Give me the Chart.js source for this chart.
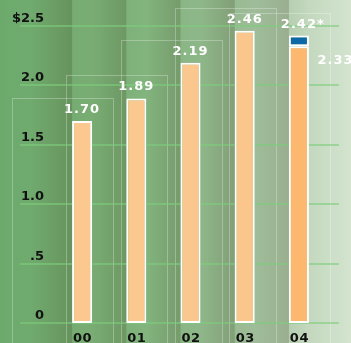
<!DOCTYPE html>
<html lang="en">
<head>
<meta charset="UTF-8">
<title>Earnings per Share</title>
<script src="https://cdn.jsdelivr.net/npm/chart.js"></script>
<style>
  html, body { margin: 0; padding: 0; background: #8fbf8a; overflow: hidden; }
</style>
</head>
<body>
<canvas id="chartCanvas" width="351" height="343"></canvas>
<script>
const years = ['00', '01', '02', '03', '04'];
const reported = [1.70, 1.89, 2.19, 2.46, 2.33];
const adjusted = [null, null, null, null, 2.42];
const yTicks = [0, 0.5, 1.0, 1.5, 2.0, 2.5];
const yTickLabels = ['0', '.5', '1.0', '1.5', '2.0', '$2.5'];

// the part of the adjusted figure above the reported one
const extra = adjusted.map((v, i) => v == null ? 0 : +(v - reported[i]).toFixed(2));
const totals = reported.map((v, i) => adjusted[i] == null ? v : adjusted[i]);

const barColors = ['#fbc98f', '#fbc98f', '#fac88e', '#fbc68b', '#fdb870'];
const labelFont = 'bold 13px "DejaVu Sans"';

const decor = {
  id: 'decor',
  beforeDraw(chart) {
    const { ctx, chartArea, scales: { x, y } } = chart;
    const W = chart.width, H = chart.height;
    ctx.save();
    // base wash, dark green on the left fading to pale
    const g = ctx.createLinearGradient(0, 0, W, 0);
    g.addColorStop(0, 'rgb(108,170,108)');
    g.addColorStop(90 / W, 'rgb(120,172,115)');
    g.addColorStop(146 / W, 'rgb(130,180,125)');
    g.addColorStop(200 / W, 'rgb(142,183,137)');
    g.addColorStop(254 / W, 'rgb(158,188,152)');
    g.addColorStop(308 / W, 'rgb(195,216,190)');
    g.addColorStop(1, 'rgb(212,228,207)');
    ctx.fillStyle = g;
    ctx.fillRect(0, 0, W, H);

    // shadow bands falling in from the left side of every bar
    const half = 10;
    let prev = 30;
    years.forEach((_, i) => {
      const cx = x.getPixelForValue(i);
      const x1 = cx - half;
      const sg = ctx.createLinearGradient(prev, 0, x1, 0);
      sg.addColorStop(0, 'rgba(50,60,20,0)');
      sg.addColorStop(1, 'rgba(50,60,20,0.22)');
      ctx.fillStyle = sg;
      ctx.fillRect(prev, 0, x1 - prev, H);
      prev = cx + half;
    });

    // faint frames behind each bar
    ctx.strokeStyle = 'rgba(255,255,255,0.28)';
    ctx.lineWidth = 1;
    years.forEach((_, i) => {
      const cx = Math.round(x.getPixelForValue(i));
      const top = Math.round(y.getPixelForValue(totals[i])) - 23;
      ctx.strokeRect(cx - 69.5, top + 0.5, 101, H);
    });

    // horizontal rules
    ctx.fillStyle = 'rgba(125,205,125,0.6)';
    yTicks.forEach(v => {
      const py = Math.round(y.getPixelForValue(v));
      ctx.fillRect(20, py - 1, 319, 2);
    });

    // axis labels
    ctx.fillStyle = '#111';
    ctx.font = labelFont;
    ctx.textBaseline = 'alphabetic';
    ctx.textAlign = 'right';
    yTicks.forEach((v, i) => {
      const py = Math.round(y.getPixelForValue(v));
      ctx.fillText(yTickLabels[i], 44, py - 4);
    });
    ctx.textAlign = 'center';
    ctx.letterSpacing = '0.5px';
    years.forEach((yr, i) => {
      ctx.fillText(yr, x.getPixelForValue(i) + 0.5, chartArea.bottom + 19);
    });
    ctx.restore();
  },
  afterDatasetsDraw(chart) {
    const { ctx, scales: { x, y } } = chart;
    ctx.save();
    ctx.fillStyle = '#fff';
    ctx.font = labelFont;
    ctx.letterSpacing = '1px';
    ctx.textBaseline = 'alphabetic';
    years.forEach((_, i) => {
      const cx = x.getPixelForValue(i);
      const text = totals[i].toFixed(2);
      const py = y.getPixelForValue(totals[i]) - 8;
      const w = ctx.measureText(text).width;
      ctx.textAlign = 'left';
      ctx.fillText(text, cx - w / 2, py);
      if (adjusted[i] != null) {
        ctx.fillText('*', cx + w / 2, py);
        // reported figure beside the bar
        ctx.fillText(reported[i].toFixed(2), cx + 18.5, y.getPixelForValue(reported[i]) + 18);
      }
    });
    ctx.restore();
  }
};

new Chart(document.getElementById('chartCanvas'), {
  type: 'bar',
  data: {
    labels: years,
    datasets: [
      {
        data: reported,
        backgroundColor: barColors,
        borderColor: '#fff',
        borderWidth: 2,
        borderSkipped: false
      },
      {
        data: extra,
        backgroundColor: '#0b6aa6',
        borderColor: '#fff',
        borderWidth: 2,
        borderSkipped: false
      }
    ]
  },
  options: {
    responsive: false,
    animation: false,
    devicePixelRatio: 1,
    layout: { padding: { left: 55, right: 25, top: 26, bottom: 20 } },
    datasets: { bar: { categoryPercentage: 0.37, barPercentage: 1 } },
    scales: {
      x: { display: false, stacked: true },
      y: { display: false, stacked: true, min: 0, max: 2.5 }
    },
    plugins: { legend: { display: false }, tooltip: { enabled: false } }
  },
  plugins: [decor]
});
</script>
</body>
</html>
